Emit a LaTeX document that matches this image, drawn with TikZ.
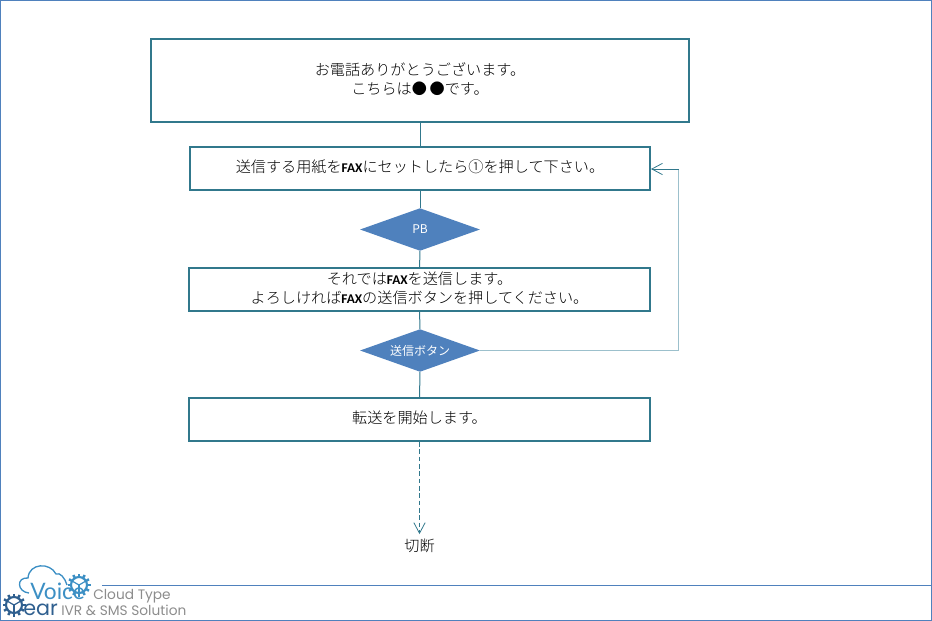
\documentclass[tikz,border=0pt]{standalone}
\usepackage{fontspec}
\setmainfont{Noto Sans CJK JP Light}
\newfontfamily\latinfont{Carlito}
\newfontfamily\logofont{Poppins}
\newfontfamily\voicefont{Lato}
\newfontfamily\branchfont{Noto Sans CJK JP}
\usetikzlibrary{shapes.geometric,arrows.meta}
\definecolor{vg01}{HTML}{31788C}
\definecolor{vg02}{HTML}{4F81BD}
\definecolor{vg03}{HTML}{9CC0CC}
\definecolor{vg04}{HTML}{3C8FC4}
\definecolor{vg05}{HTML}{8C8C8C}
\definecolor{vg06}{HTML}{2F5F8F}
\newcommand{\fax}{{\latinfont\bfseries\fontsize{10}{14}\selectfont FAX}}
\tikzset{
  msgbox/.style={rectangle,draw=vg01,line width=1.5pt,fill=white,align=center,inner sep=0pt,text depth=3pt,font=\fontsize{11.35}{14}\selectfont},
  branch/.style={diamond,fill=vg02,text=white,aspect=2.8,inner sep=0pt,font=\branchfont\fontsize{9}{10}\selectfont},
  conn/.style={vg01,line width=0.75pt},
  tipline/.style={-{Straight Barb[length=8pt,width=8.5pt,line width=0.6pt]}},
  logotext/.style={vg05,inner sep=0pt,anchor=west,font=\logofont\fontsize{10.3}{12}\selectfont},
  pics/cog/.style={code={
    \draw[#1,line width=1.6pt] (0,0) circle (8);
    \foreach \a in {0,30,...,330}
      \draw[#1,line width=1.8pt] (\a:8) -- (\a:11.5);
    \foreach \a in {90,210,330}
      \draw[#1,line width=0.9pt] (0,0) -- (\a:8);
  }},
}
\begin{document}
\begin{tikzpicture}[x=0.75pt,y=-0.75pt]
  \useasboundingbox (0,0) rectangle (932,621);
  \draw[vg02,line width=0.75pt] (0.5,0.5) rectangle (931.5,620.5);

  \node[msgbox,minimum width=403.5pt,minimum height=62pt] (welcome) at (420,80.5) {お電話ありがとうございます。\\こちらは●\hspace{2pt}●です。};
  \node[msgbox,minimum width=345pt,minimum height=32pt] (setpaper) at (420,168.5) {送信する用紙を\fax にセットしたら①を押して下さい。};
  \node[branch,minimum width=90pt,minimum height=32pt] (pb) at (420,229.5) {PB};
  \node[msgbox,minimum width=345.5pt,minimum height=32pt] (sendfax) at (419.5,289.5) {それでは\fax を送信します。\\よろしければ\fax の送信ボタンを押してください。};
  \node[branch,minimum width=90pt,minimum height=32pt] (button) at (420,350.5) {送信ボタン};
  \node[msgbox,minimum width=345.5pt,minimum height=32pt] (transfer) at (419.5,419.5) {転送を開始します。};
  \node[inner sep=0pt,font=\fontsize{11.35}{14}\selectfont] (hangup) at (419.5,546) {切断};
  \coordinate (corner1) at (678.5,350.5);
  \coordinate (corner2) at (678.5,169);

  \draw[conn] (welcome) -- (setpaper);
  \draw[conn] (setpaper) -- (pb);
  \draw[conn] (pb) -- (sendfax);
  \draw[conn] (sendfax) -- (button);
  \draw[conn] (button) -- (transfer);
  \draw[conn,dash pattern=on 3.5pt off 2pt,tipline,shorten >=3.5pt] (transfer.south) -- (hangup.north);
  \draw[vg03,line width=1.1pt] (button.east) -- (corner1) -- (corner2);
  \draw[conn,tipline] (corner2) -- (setpaper.east |- corner2);

  % footer and logo
  \coordinate (footerl) at (102,585.5);
  \coordinate (footerr) at (931,585.5);
  \draw[vg02,line width=0.75pt] (footerl) -- (footerr);
  \draw[vg04,line width=1pt] (29,593) .. controls (17,592) and (16,577) .. (28,578)
    .. controls (29,563) and (50,562) .. (56,574) .. controls (60,572) and (65,578) .. (67,585);
  \pic at (79,585) {cog={vg04}};
  \pic at (14,605) {cog={vg06}};
  \node[inner sep=0pt,anchor=base west,text=vg04,font=\voicefont\fontsize{17}{18}\selectfont] (voice) at (30,599) {Voice};
  \node[inner sep=0pt,anchor=base west,text=vg06,font=\logofont\fontsize{15.5}{16}\selectfont] (gear) at (23,615) {ear};
  \node[logotext] (cloudtype) at (93,596) {Cloud Type};
  \node[logotext] (solution) at (61,610.5) {IVR \& SMS Solution};
\end{tikzpicture}
\end{document}
